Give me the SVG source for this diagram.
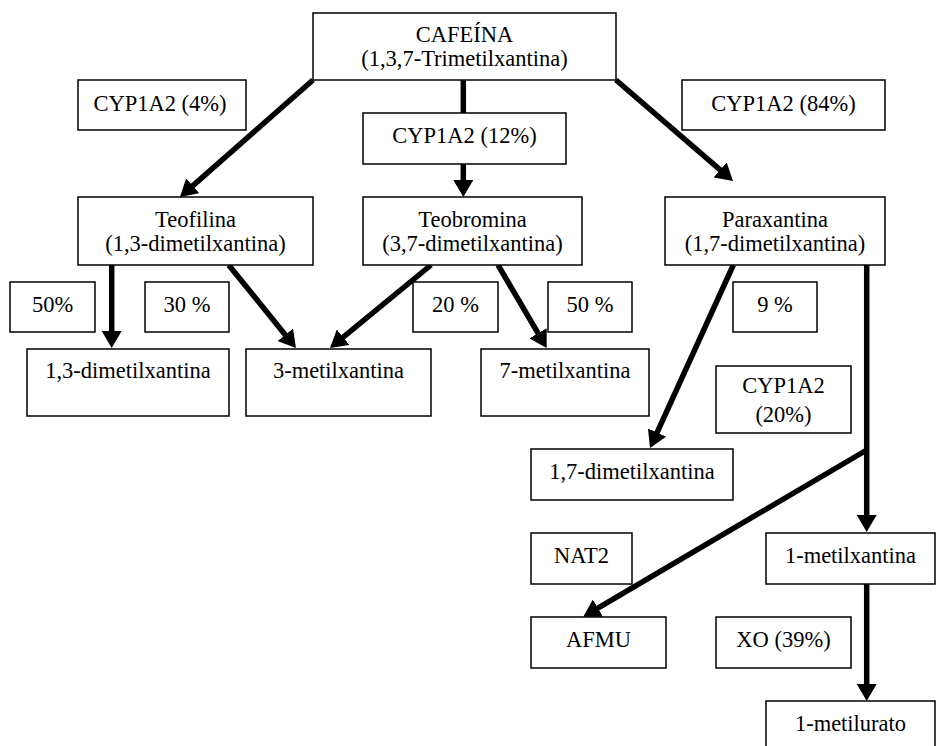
<svg xmlns="http://www.w3.org/2000/svg" width="939" height="746" viewBox="0 0 939 746">
<defs>
<marker id="ah" markerUnits="userSpaceOnUse" viewBox="0 0 17 20" refX="5" refY="10" markerWidth="17" markerHeight="20" orient="auto">
<path d="M0,0 L17,10 L0,20 z" fill="#000"/>
</marker>
<style>
.box{fill:#fff;stroke:#000;stroke-width:1.5}
text{font-family:'Liberation Serif','Times New Roman','DejaVu Serif',serif;font-size:22.5px;fill:#000;text-anchor:middle}
.c{stroke:#000;stroke-width:5.5;fill:none}
.a{marker-end:url(#ah)}
</style>
</defs>
<rect width="939" height="746" fill="#fff"/>
<g id="connectors">
<line class="c a" x1="313" y1="80" x2="189" y2="189.1"/>
<line class="c" x1="463.3" y1="80" x2="463.3" y2="113"/>
<line class="c a" x1="463.3" y1="164" x2="463.3" y2="185"/>
<line class="c a" x1="616" y1="80" x2="723.9" y2="173.2"/>
<line class="c a" x1="111.7" y1="265" x2="111.7" y2="336"/>
<line class="c a" x1="228.7" y1="265" x2="288.4" y2="338.7"/>
<line class="c a" x1="431" y1="265" x2="339.3" y2="340.4"/>
<line class="c a" x1="498" y1="265" x2="540.6" y2="337.6"/>
<line class="c a" x1="733.3" y1="265" x2="655" y2="437.1"/>
<line class="c a" x1="866.7" y1="265" x2="866.7" y2="520"/>
<line class="c a" x1="866.7" y1="450" x2="593.6" y2="610.6"/>
<line class="c a" x1="866.7" y1="584" x2="866.7" y2="689"/>
</g>
<g id="cafeina"><rect class="box" x="313" y="13" width="303" height="67"/><text x="464.5" y="41.7">CAFEÍNA</text><text x="464.5" y="66">(1,3,7-Trimetilxantina)</text></g>
<g id="cyp4"><rect class="box" x="78" y="80" width="168" height="50"/><text x="160" y="110.5">CYP1A2 (4%)</text></g>
<g id="cyp12"><rect class="box" x="363" y="113" width="203" height="51"/><text x="464.5" y="143.3">CYP1A2 (12%)</text></g>
<g id="cyp84"><rect class="box" x="682" y="80" width="203" height="50"/><text x="783.5" y="110.5">CYP1A2 (84%)</text></g>
<g id="teofilina"><rect class="box" x="78" y="197" width="235" height="68"/><text x="195.5" y="226.7">Teofilina</text><text x="195.5" y="251.2">(1,3-dimetilxantina)</text></g>
<g id="teobromina"><rect class="box" x="363" y="197" width="219" height="68"/><text x="472.5" y="226.7">Teobromina</text><text x="472.5" y="251.2">(3,7-dimetilxantina)</text></g>
<g id="paraxantina"><rect class="box" x="665" y="197" width="220" height="68"/><text x="775" y="226.7">Paraxantina</text><text x="775" y="251.2">(1,7-dimetilxantina)</text></g>
<g id="p50a"><rect class="box" x="10" y="282" width="85" height="50"/><text x="52.5" y="312">50%</text></g>
<g id="p30"><rect class="box" x="145" y="282" width="84" height="50"/><text x="187" y="312">30 %</text></g>
<g id="p20"><rect class="box" x="413" y="282" width="85" height="50"/><text x="455.5" y="312">20 %</text></g>
<g id="p50b"><rect class="box" x="548" y="282" width="84" height="50"/><text x="590" y="312">50 %</text></g>
<g id="p9"><rect class="box" x="733" y="282" width="84" height="50"/><text x="775" y="312">9 %</text></g>
<g id="dimetil13"><rect class="box" x="27" y="349" width="202" height="67"/><text x="128" y="378.3">1,3-dimetilxantina</text></g>
<g id="metil3"><rect class="box" x="246" y="349" width="185" height="67"/><text x="338.5" y="378.3">3-metilxantina</text></g>
<g id="metil7"><rect class="box" x="481" y="349" width="168" height="67"/><text x="565" y="378.3">7-metilxantina</text></g>
<g id="cyp20"><rect class="box" x="716" y="366" width="135" height="67"/><text x="783.5" y="393.3">CYP1A2</text><text x="783.5" y="421.7">(20%)</text></g>
<g id="dimetil17"><rect class="box" x="531" y="449" width="202" height="51"/><text x="632" y="479.3">1,7-dimetilxantina</text></g>
<g id="nat2"><rect class="box" x="531" y="533" width="101" height="51"/><text x="581.5" y="563.3">NAT2</text></g>
<g id="metil1"><rect class="box" x="766" y="533" width="169" height="51"/><text x="850.5" y="563.3">1-metilxantina</text></g>
<g id="afmu"><rect class="box" x="531" y="617" width="135" height="51"/><text x="598.5" y="646.7">AFMU</text></g>
<g id="xo"><rect class="box" x="716" y="617" width="135" height="51"/><text x="783.5" y="646.7">XO (39%)</text></g>
<g id="metilurato"><rect class="box" x="766" y="701" width="169" height="70"/><text x="850.5" y="730.7">1-metilurato</text></g>
</svg>
